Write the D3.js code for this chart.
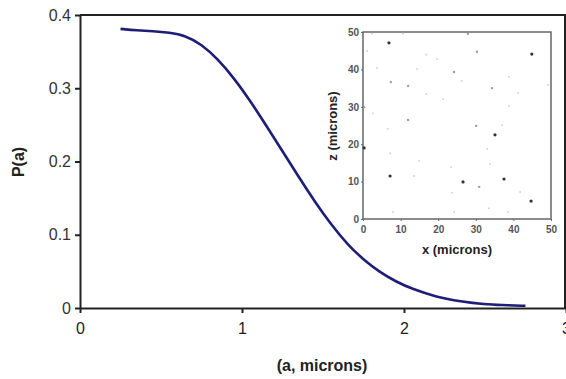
<!DOCTYPE html>
<html>
<head>
<meta charset="utf-8">
<script src="https://cdn.jsdelivr.net/npm/d3@7"></script>
<style>
  body { margin: 0; background: #fff; }
  svg { display: block; font-family: "Liberation Sans", Arial, sans-serif; }
</style>
</head>
<body>
<svg id="chart" width="566" height="379"></svg>
<script>
// main curve P(a)
const aValues = [0.25, 0.35, 0.45, 0.55, 0.65, 0.75, 0.85, 0.95, 1.05, 1.15, 1.25, 1.35, 1.45,
  1.55, 1.65, 1.75, 1.85, 1.95, 2.05, 2.2, 2.35, 2.5, 2.6, 2.75];
const pValues = [0.381, 0.379, 0.378, 0.376, 0.372, 0.360, 0.340, 0.314, 0.283, 0.249, 0.214, 0.179, 0.145,
  0.114, 0.087, 0.066, 0.049, 0.036, 0.026, 0.015, 0.009, 0.005, 0.004, 0.003];
const xTicks = [0, 1, 2, 3];
const yTicks = [0, 0.1, 0.2, 0.3, 0.4];

// inset: particle positions (x, z in microns) and darkness 1..3
const dotX = [2.4, 10.6, 27.9, 6.9, 44.9, 1.1, 16.8, 30.3, 19.7, 3.7, 14.4, 24.2, 7.4, 12.0, 26.3, 34.3,
  38.8, 41.2, 49.2, 16.8, 21.3, 0.3, 2.7, 12.0, 38.8, 6.6, 30.1, 37.0, 35.1, 0.3, 7.2, 33.0, 14.9, 7.2,
  13.6, 26.6, 23.4, 33.8, 30.9, 37.5, 41.8, 44.7, 23.7, 8.0, 24.2, 33.5, 38.6];
const dotZ = [49.5, 49.5, 49.5, 47.1, 44.1, 44.9, 43.9, 44.7, 42.8, 40.4, 40.1, 39.3, 36.6, 35.6, 36.9, 35.0,
  38.0, 33.7, 35.8, 33.4, 32.1, 29.9, 28.3, 26.5, 30.2, 24.1, 24.9, 25.1, 22.5, 19.0, 17.6, 18.7, 15.5, 11.5,
  11.5, 9.9, 13.9, 14.7, 8.6, 10.7, 7.2, 4.8, 7.0, 1.9, 1.9, 2.9, 1.9];
const dotLevel = [1, 1, 2, 3, 3, 1, 1, 2, 1, 1, 1, 2, 2, 2, 1, 2,
  1, 1, 1, 1, 1, 2, 1, 2, 1, 1, 2, 1, 3, 3, 1, 1, 1, 3,
  1, 3, 1, 1, 2, 3, 1, 3, 1, 1, 1, 1, 1];
const insetTicks = [0, 10, 20, 30, 40, 50];

const svg = d3.select("#chart");

const x = d3.scaleLinear().domain([0, 3]).range([80, 566]);
const y = d3.scaleLinear().domain([0, 0.4]).range([308, 15]);

// frame (top and right)
svg.append("path")
  .attr("d", `M${x(0)},${y(0.4)}H${x(3) - 1}V${y(0)}`)
  .attr("fill", "none").attr("stroke", "#222").attr("stroke-width", 2);

// axes
const xAxis = svg.append("g")
  .attr("transform", `translate(0,${y(0)})`)
  .call(d3.axisBottom(x).tickValues(xTicks).tickFormat(d3.format("d")).tickSize(5).tickSizeOuter(0));
const yAxis = svg.append("g")
  .attr("transform", `translate(${x(0)},0)`)
  .call(d3.axisLeft(y).tickValues(yTicks).tickFormat(d => d === 0 ? "0" : d3.format(".1f")(d)).tickSize(5).tickSizeOuter(0));

[xAxis, yAxis].forEach(g => {
  g.select(".domain").attr("stroke", "#222").attr("stroke-width", 2);
  g.selectAll(".tick line").attr("stroke", "#222").attr("stroke-width", 2);
  g.selectAll("text").attr("fill", "#333").style("font-size", "16px").attr("font-family", null);
});
xAxis.selectAll("text").attr("dy", "1.15em").attr("fill", "#222");
yAxis.selectAll("text").attr("x", -9);

// axis titles
svg.append("text")
  .attr("x", 322).attr("y", 371)
  .attr("text-anchor", "middle")
  .style("font-size", "16px").style("font-weight", "bold").attr("fill", "#222")
  .text("(a, microns)");
svg.append("text")
  .attr("transform", "translate(24,162) rotate(-90)")
  .attr("text-anchor", "middle")
  .style("font-size", "16px").style("font-weight", "bold").attr("fill", "#222")
  .text("P(a)");

// curve
const line = d3.line()
  .x((d, i) => x(aValues[i]))
  .y(d => y(d))
  .curve(d3.curveBasis);
svg.append("path")
  .datum(pValues)
  .attr("d", line)
  .attr("fill", "none")
  .attr("stroke", "#1e1e78")
  .attr("stroke-width", 2.6);

// inset
const ix = d3.scaleLinear().domain([0, 50]).range([363, 551]);
const iz = d3.scaleLinear().domain([0, 50]).range([219, 32]);

svg.append("rect")
  .attr("x", ix(0)).attr("y", iz(50))
  .attr("width", ix(50) - ix(0)).attr("height", iz(0) - iz(50))
  .attr("fill", "#fff").attr("stroke", "#666").attr("stroke-width", 1.5);

const ixAxis = svg.append("g")
  .attr("transform", `translate(0,${iz(0)})`)
  .call(d3.axisBottom(ix).tickValues(insetTicks).tickSize(2).tickSizeOuter(0));
const izAxis = svg.append("g")
  .attr("transform", `translate(${ix(0)},0)`)
  .call(d3.axisLeft(iz).tickValues(insetTicks).tickSize(2).tickSizeOuter(0));
[ixAxis, izAxis].forEach(g => {
  g.select(".domain").remove();
  g.selectAll(".tick line").attr("stroke", "#666");
  g.selectAll("text").attr("fill", "#555").style("font-size", "10px")
    .style("font-weight", "bold").attr("font-family", null);
});
izAxis.selectAll("text").attr("x", -4);
ixAxis.selectAll("text").attr("dy", "0.9em");

svg.append("text")
  .attr("x", 457).attr("y", 254)
  .attr("text-anchor", "middle")
  .style("font-size", "13px").style("font-weight", "bold").attr("fill", "#222")
  .text("x (microns)");
svg.append("text")
  .attr("transform", "translate(337,126) rotate(-90)")
  .attr("text-anchor", "middle")
  .style("font-size", "13px").style("font-weight", "bold").attr("fill", "#222")
  .text("z (microns)");

const dotColor = ["#d4d4d4", "#9a9a9a", "#333"];
const dotRadius = [1, 1.2, 1.6];
svg.append("g").selectAll("circle")
  .data(dotX)
  .join("circle")
  .attr("cx", d => ix(d))
  .attr("cy", (d, i) => iz(dotZ[i]))
  .attr("r", (d, i) => dotRadius[dotLevel[i] - 1])
  .attr("fill", (d, i) => dotColor[dotLevel[i] - 1]);
</script>
</body>
</html>
